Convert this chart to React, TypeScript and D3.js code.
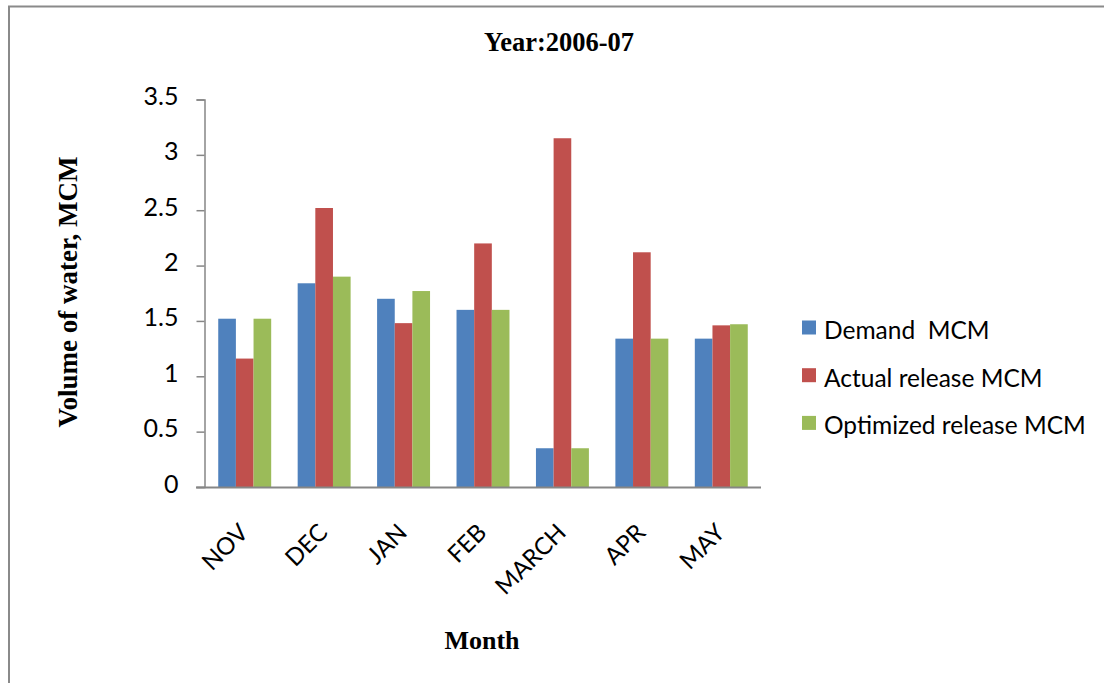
import { useEffect, useRef } from "react";
import * as d3 from "d3";

const months = ["NOV", "DEC", "JAN", "FEB", "MARCH", "APR", "MAY"];
const seriesNames = ["Demand  MCM", "Actual release MCM", "Optimized release MCM"];
const demand = [1.52, 1.84, 1.7, 1.6, 0.35, 1.34, 1.34];
const actual = [1.16, 2.52, 1.48, 2.2, 3.15, 2.12, 1.46];
const optimized = [1.52, 1.9, 1.77, 1.6, 0.35, 1.34, 1.47];
const yTicks = [0, 0.5, 1, 1.5, 2, 2.5, 3, 3.5];
const colors = ["#4F81BD", "#C0504D", "#9BBB59"];

export default function App() {
  const ref = useRef<SVGSVGElement | null>(null);

  useEffect(() => {
    if (!ref.current) return;
    const svg = d3.select(ref.current);
    svg.selectAll("*").remove();

    const sans = "Lato, 'Open Sans', sans-serif";
    const serif = "'Liberation Serif', 'Times New Roman', serif";

    // outer frame (runs off the right and bottom edges)
    svg.append("rect")
      .attr("x", 9).attr("y", 6.5).attr("width", 1110).attr("height", 700)
      .attr("fill", "#fff").attr("stroke", "#8a8a8a").attr("stroke-width", 2);

    const x = d3.scaleBand<string>().domain(months).range([205, 761]);
    const bw = x.bandwidth();
    const inner = d3.scaleBand<number>().domain([0, 1, 2])
      .range([bw * 0.75 / 4.5, bw * 3.75 / 4.5]);
    const y = d3.scaleLinear().domain([0, 3.5]).range([487, 99.5]);

    const data = [demand, actual, optimized];

    // bars
    data.forEach((vals, si) => {
      svg.append("g").selectAll("rect")
        .data(vals)
        .join("rect")
        .attr("x", (_, i) => x(months[i])! + inner(si)!)
        .attr("y", d => y(d))
        .attr("width", inner.bandwidth())
        .attr("height", d => y(0) - y(d))
        .attr("fill", colors[si]);
    });

    // y axis
    const yAxis = svg.append("g").attr("transform", "translate(204.5,0)")
      .call(d3.axisLeft(y).tickValues(yTicks).tickSize(8).tickPadding(18)
        .tickFormat(d => `${d}`));
    yAxis.select(".domain").attr("stroke", "#868686").attr("stroke-width", 1.5);
    yAxis.selectAll(".tick line").attr("stroke", "#868686").attr("stroke-width", 1.5);
    yAxis.selectAll(".tick text")
      .attr("font-family", sans).attr("font-size", 25).attr("fill", "#000")
      .attr("dy", "0.2em");

    // x axis line
    svg.append("line")
      .attr("x1", 196).attr("x2", 761).attr("y1", 487.5).attr("y2", 487.5)
      .attr("stroke", "#868686").attr("stroke-width", 2);

    // x labels rotated
    svg.append("g").selectAll("text")
      .data(months)
      .join("text")
      .attr("transform", d => `translate(${x(d)! + bw / 2 + 5},${534}) rotate(-45)`)
      .attr("text-anchor", "end")
      .attr("font-family", sans).attr("font-size", 24)
      .text(d => d);

    // title
    svg.append("text")
      .attr("x", 559).attr("y", 51).attr("text-anchor", "middle")
      .attr("font-family", serif).attr("font-weight", "bold").attr("font-size", 26.5)
      .text("Year:2006-07");

    // axis titles
    svg.append("text")
      .attr("transform", "translate(77,292) rotate(-90)")
      .attr("text-anchor", "middle")
      .attr("font-family", serif).attr("font-weight", "bold").attr("font-size", 27)
      .text("Volume of water, MCM");
    svg.append("text")
      .attr("x", 482).attr("y", 649).attr("text-anchor", "middle")
      .attr("font-family", serif).attr("font-weight", "bold").attr("font-size", 26)
      .text("Month");

    // legend
    const lg = svg.append("g").attr("transform", "translate(802,320.5)");
    seriesNames.forEach((name, i) => {
      lg.append("rect")
        .attr("x", 0).attr("y", i * 47.7).attr("width", 14).attr("height", 14)
        .attr("fill", colors[i]);
      lg.append("text")
        .attr("x", 22).attr("y", i * 47.7 + 18.5)
        .attr("font-family", sans).attr("font-size", 24.5)
        .style("white-space", "pre")
        .text(name);
    });
  }, []);

  return (
    <svg ref={ref} width={1104} height={683}
      style={{ position: "absolute", left: 0, top: 0, background: "#fff" }}
      role="img" aria-label="Volume of water by month, 2006-07" />
  );
}
